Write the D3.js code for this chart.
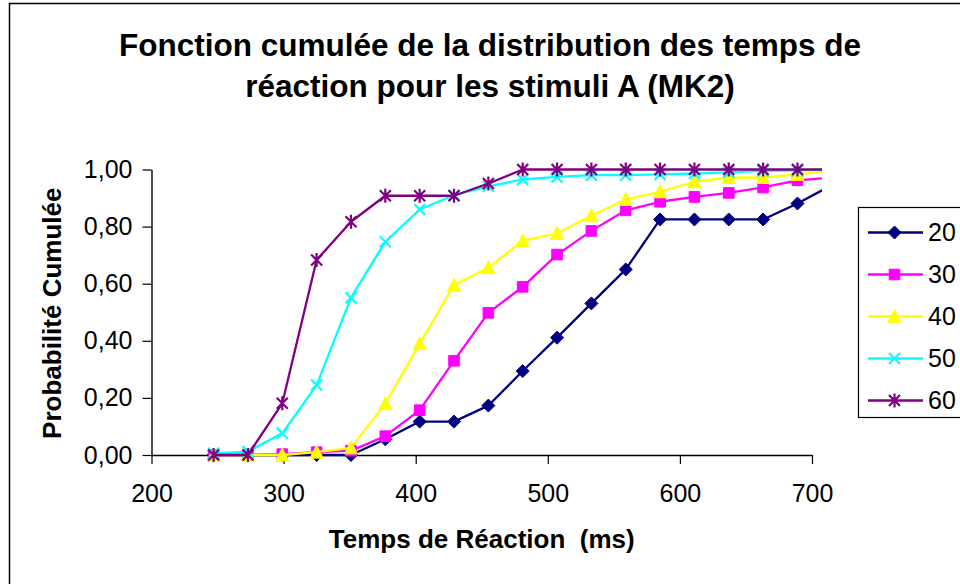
<!DOCTYPE html>
<html>
<head>
<meta charset="utf-8">
<script src="https://cdn.jsdelivr.net/npm/d3@7"></script>
<style>
  html, body { margin: 0; padding: 0; background: #fff; }
  svg { display: block; }
  text { font-family: "Liberation Sans", Arial, sans-serif; fill: #000; }
</style>
</head>
<body>
<svg id="chart" width="960" height="584"></svg>
<script>
// ---- data ----
const titleLines = ["Fonction cumulée de la distribution des temps de", "réaction pour les stimuli A (MK2)"];
const xTitle = "Temps de Réaction  (ms)";
const yTitle = "Probabilité Cumulée";
const seriesNames = ["20", "30", "40", "50", "60"];
const reactionTimes = [247, 273, 299, 325, 351, 377, 403, 429, 455, 481, 507, 533, 559, 585, 611, 637, 663, 689, 715];
const s20 = [0, 0, 0, 0, 0, 0.055, 0.117, 0.117, 0.173, 0.294, 0.411, 0.531, 0.650, 0.825, 0.825, 0.825, 0.825, 0.881, 0.945];
const s30 = [0, 0, 0.003, 0.01, 0.015, 0.066, 0.157, 0.33, 0.498, 0.589, 0.702, 0.785, 0.857, 0.887, 0.904, 0.918, 0.937, 0.962, 0.972];
const s40 = [0, 0, 0, 0.01, 0.025, 0.18, 0.39, 0.595, 0.656, 0.75, 0.776, 0.838, 0.895, 0.922, 0.957, 0.972, 0.972, 0.983, 0.995];
const s50 = [0.006, 0.012, 0.076, 0.245, 0.551, 0.747, 0.86, 0.91, 0.941, 0.965, 0.974, 0.98, 0.98, 0.983, 0.986, 0.99, 0.995, 0.997, 1.0];
const s60 = [0, 0, 0.181, 0.683, 0.817, 0.908, 0.908, 0.908, 0.951, 1, 1, 1, 1, 1, 1, 1, 1, 1, 1];
const xTickValues = [200, 300, 400, 500, 600, 700];
const yTickValues = [0, 0.2, 0.4, 0.6, 0.8, 1.0];

// ---- styles ----
const seriesValues = [s20, s30, s40, s50, s60];
const colors = ["#000080", "#FF00FF", "#FFFF00", "#00FFFF", "#800080"];
const markerTypes = ["diamond", "square", "triangle", "x", "asterisk"];

const svg = d3.select("#chart");

// outer chart border
svg.append("rect")
  .attr("x", 9.5).attr("y", 3.5).attr("width", 1000).attr("height", 1000)
  .attr("fill", "#fff").attr("stroke", "#000").attr("stroke-width", 1.5);

const x = d3.scaleLinear().domain([200, 700]).range([151.5, 812]);
const y = d3.scaleLinear().domain([0, 1]).range([455, 169.5]);

// title
const title = svg.append("text")
  .attr("text-anchor", "middle")
  .style("font-weight", "bold").style("font-size", "31.5px");
titleLines.forEach((t, i) => {
  title.append("tspan").attr("x", 490).attr("y", 56 + i * 41).text(t);
});

// axes
const fmt = d => d3.format(".2f")(d).replace(".", ",");
const xAxis = svg.append("g").attr("transform", `translate(0,${y(0)})`)
  .call(d3.axisBottom(x).tickValues(xTickValues).tickSizeInner(9).tickSizeOuter(0).tickPadding(20).tickFormat(d3.format("d")));
const yAxis = svg.append("g").attr("transform", `translate(${x(200)},0)`)
  .call(d3.axisLeft(y).tickValues(yTickValues).tickSizeInner(9).tickSizeOuter(0).tickPadding(10).tickFormat(fmt));
[xAxis, yAxis].forEach(g => {
  g.select(".domain").attr("stroke", "#000").attr("stroke-width", 1.4);
  g.selectAll(".tick line").attr("stroke", "#000").attr("stroke-width", 1.2);
  g.selectAll(".tick text").style("font-size", "25px").style("font-family", "'Liberation Sans', Arial, sans-serif").attr("fill", "#000");
});

// axis titles
svg.append("text")
  .attr("x", (x(200) + x(700)) / 2).attr("y", 548)
  .attr("text-anchor", "middle")
  .style("white-space", "pre")
  .style("font-weight", "bold").style("font-size", "26px")
  .text(xTitle);
svg.append("text")
  .attr("transform", `translate(61,${(y(0) + y(1)) / 2 + 1}) rotate(-90)`)
  .attr("text-anchor", "middle")
  .style("font-weight", "bold").style("font-size", "26px")
  .text(yTitle);

// marker path generator
function markerPath(type) {
  switch (type) {
    case "diamond": { const r = 6.5; return `M0,${-r}L${r},0L0,${r}L${-r},0Z`; }
    case "square": { const r = 5.3; return `M${-r},${-r}H${r}V${r}H${-r}Z`; }
    case "triangle": { const w = 6.5, h = 6; return `M0,${-h - 1}L${w},${h}L${-w},${h}Z`; }
    case "x": { const r = 5.5; return `M${-r},${-r}L${r},${r}M${r},${-r}L${-r},${r}`; }
    case "asterisk": { const r = 5.5; return `M${-r},${-r}L${r},${r}M${r},${-r}L${-r},${r}M0,${-r - 1.5}V${r + 1.5}`; }
  }
}
function drawMarker(sel, i) {
  const t = markerTypes[i];
  const filled = t === "diamond" || t === "square" || t === "triangle";
  sel.attr("d", markerPath(t))
    .attr("fill", filled ? colors[i] : "none")
    .attr("stroke", colors[i])
    .attr("stroke-width", filled ? 1 : 2.2)
    .attr("stroke-linejoin", "miter");
}

// clip
svg.append("clipPath").attr("id", "plotclip")
  .append("rect").attr("x", 0).attr("y", 0).attr("width", x(700) + 10).attr("height", 584);

const plot = svg.append("g").attr("clip-path", "url(#plotclip)");
const line = d3.line().x(d => x(d[0])).y(d => y(d[1]));

seriesValues.forEach((vals, i) => {
  const pts = reactionTimes.map((t, k) => [t, vals[k]]);
  const g = plot.append("g");
  g.append("path").datum(pts)
    .attr("d", line).attr("fill", "none")
    .attr("stroke", colors[i]).attr("stroke-width", 2.3).attr("stroke-linejoin", "round");
  g.selectAll("path.m").data(pts).enter().append("path").attr("class", "m")
    .attr("transform", d => `translate(${x(d[0])},${y(d[1])})`)
    .call(s => drawMarker(s, i));
});

// legend
const legend = svg.append("g");
legend.append("rect")
  .attr("x", 858.5).attr("y", 207.5).attr("width", 200).attr("height", 210)
  .attr("fill", "#fff").attr("stroke", "#000").attr("stroke-width", 1.2);
seriesNames.forEach((name, i) => {
  const ly = 232.5 + i * 42;
  legend.append("line").attr("x1", 868).attr("x2", 923).attr("y1", ly).attr("y2", ly)
    .attr("stroke", colors[i]).attr("stroke-width", 2.3);
  legend.append("path").attr("transform", `translate(894.5,${ly})`).call(s => drawMarker(s, i));
  legend.append("text").attr("x", 928).attr("y", ly).attr("dy", "0.35em")
    .style("font-size", "25px").text(name);
});
</script>
</body>
</html>
